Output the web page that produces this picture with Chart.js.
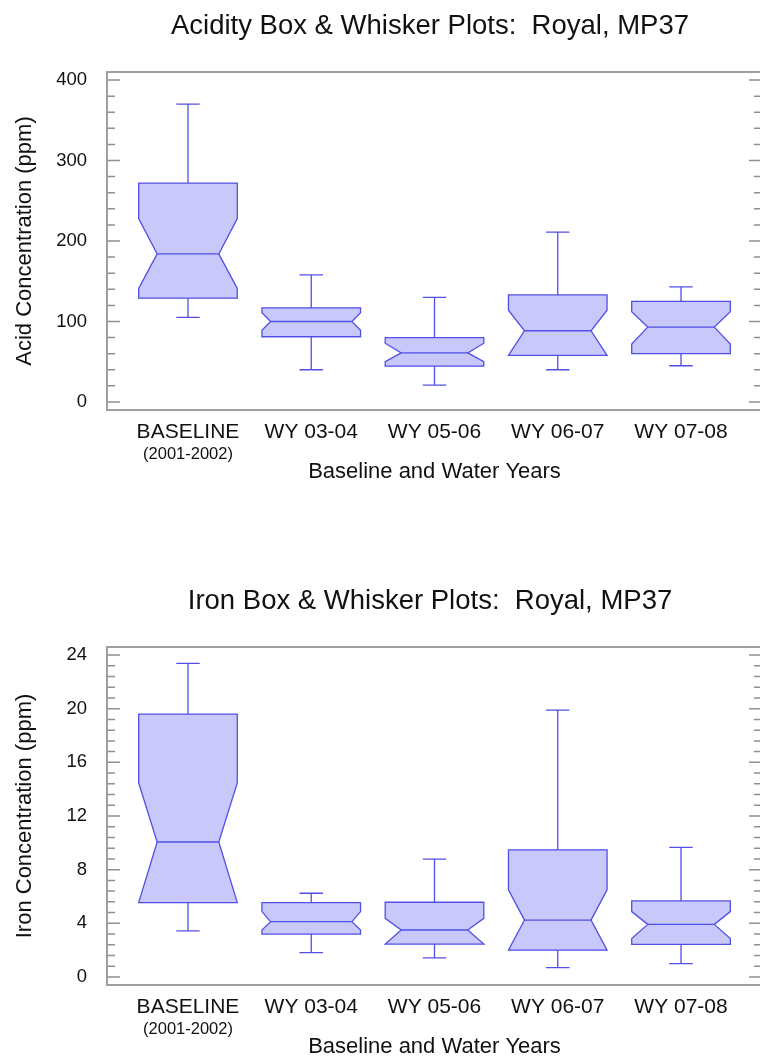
<!DOCTYPE html>
<html>
<head>
<meta charset="utf-8">
<script src="https://cdn.jsdelivr.net/npm/chart.js@4.4.1/dist/chart.umd.min.js"></script>
<style>
  html, body { margin: 0; padding: 0; background: #fff; }
  body { width: 760px; height: 1060px; overflow: hidden; position: relative; }
  .panel { position: absolute; left: 0; }
  canvas { display: block; }
</style>
</head>
<body>
<div class="panel" style="top:0"><canvas id="acidChart" width="860" height="485"></canvas></div>
<div class="panel" style="top:575px"><canvas id="ironChart" width="860" height="485"></canvas></div>
<script>
// categories shared by both plots
const categories = ['BASELINE', 'WY 03-04', 'WY 05-06', 'WY 06-07', 'WY 07-08'];
const subLabels = ['(2001-2002)', '', '', '', ''];

// acidity (ppm)
const acidWhiskerLow  = [105, 40, 21, 40, 45];
const acidQ1          = [129, 81, 44.5, 58, 60];
const acidNotchLow    = [141, 89, 50, 58, 72];
const acidMedian      = [184, 100, 61, 88.5, 93];
const acidNotchHigh   = [228, 111, 73, 114, 112];
const acidQ3          = [272, 117, 80, 133, 125];
const acidWhiskerHigh = [370, 158, 130, 211, 143];
const acidTicks = [0, 100, 200, 300, 400];

// iron (ppm)
const ironWhiskerLow  = [3.44, 1.82, 1.42, 0.7, 1.0];
const ironQ1          = [5.54, 3.2, 2.45, 2.0, 2.43];
const ironNotchLow    = [5.54, 3.5, 2.45, 2.0, 2.87];
const ironMedian      = [10.06, 4.12, 3.5, 4.24, 3.92];
const ironNotchHigh   = [14.47, 4.87, 4.37, 6.49, 4.87];
const ironQ3          = [19.59, 5.54, 5.57, 9.48, 5.67];
const ironWhiskerHigh = [23.38, 6.24, 8.79, 19.89, 9.66];
const ironTicks = [0, 4, 8, 12, 16, 20, 24];

// drawing style (x units)
const BOX_WIDTH = 0.8;
const CAP_WIDTH = 0.19;
const NOTCH_DEPTH = [0.15, 0.07, 0.13, 0.13, 0.13];
const FILL = 'rgb(200,200,250)';
const STROKE = 'rgb(80,80,230)';
const FRAME = '#a0a0a0';
const FONT = '"Liberation Sans", Arial, sans-serif';

const boxPlot = {
  id: 'boxPlot',
  beforeDatasetsDraw(chart, args, opts) {
    const ctx = chart.ctx;
    const a = chart.chartArea;
    const y = chart.scales.y;
    ctx.save();
    ctx.strokeStyle = '#909090';
    ctx.lineWidth = 1.5;
    // inside ticks on left and right
    const lo = opts.ticks[0], hi = opts.ticks[opts.ticks.length - 1];
    const n = Math.round((hi - lo) / opts.minorStep);
    for (let k = 0; k <= n; k++) {
      const v = lo + k * opts.minorStep;
      const major = Math.abs(v / opts.majorStep - Math.round(v / opts.majorStep)) < 1e-6;
      const len = major ? 13 : 8;
      const py = y.getPixelForValue(v);
      ctx.beginPath();
      ctx.moveTo(a.left, py); ctx.lineTo(a.left + len, py);
      ctx.moveTo(a.right, py); ctx.lineTo(a.right - len, py);
      ctx.stroke();
    }
    ctx.strokeStyle = FRAME;
    ctx.lineWidth = 2;
    ctx.strokeRect(a.left, a.top, a.right - a.left, a.bottom - a.top);
    ctx.restore();
  },
  afterDatasetsDraw(chart) {
    const ctx = chart.ctx;
    const x = chart.scales.x, y = chart.scales.y;
    const boxes = chart.data.datasets[0].data;
    ctx.save();
    ctx.lineWidth = 1.3;
    ctx.strokeStyle = STROKE;
    boxes.forEach(function(b, i) {
      const cx = x.getPixelForValue(b.x);
      const l = x.getPixelForValue(b.x - BOX_WIDTH / 2);
      const r = x.getPixelForValue(b.x + BOX_WIDTH / 2);
      const d = x.getPixelForValue(b.x + NOTCH_DEPTH[i]) - cx;
      const cl = x.getPixelForValue(b.x - CAP_WIDTH / 2);
      const cr = x.getPixelForValue(b.x + CAP_WIDTH / 2);
      const py = v => y.getPixelForValue(v);

      // whiskers
      ctx.beginPath();
      ctx.moveTo(cx, py(b.q3)); ctx.lineTo(cx, py(b.whiskerHigh));
      ctx.moveTo(cl, py(b.whiskerHigh)); ctx.lineTo(cr, py(b.whiskerHigh));
      ctx.moveTo(cx, py(b.q1)); ctx.lineTo(cx, py(b.whiskerLow));
      ctx.moveTo(cl, py(b.whiskerLow)); ctx.lineTo(cr, py(b.whiskerLow));
      ctx.stroke();

      // notched box
      ctx.beginPath();
      ctx.moveTo(l, py(b.q3));
      ctx.lineTo(r, py(b.q3));
      ctx.lineTo(r, py(b.notchHigh));
      ctx.lineTo(r - d, py(b.median));
      ctx.lineTo(r, py(b.notchLow));
      ctx.lineTo(r, py(b.q1));
      ctx.lineTo(l, py(b.q1));
      ctx.lineTo(l, py(b.notchLow));
      ctx.lineTo(l + d, py(b.median));
      ctx.lineTo(l, py(b.notchHigh));
      ctx.closePath();
      ctx.fillStyle = FILL;
      ctx.fill();
      ctx.stroke();

      // median
      ctx.beginPath();
      ctx.moveTo(l + d, py(b.median)); ctx.lineTo(r - d, py(b.median));
      ctx.stroke();
    });
    ctx.restore();
  },
  afterDraw(chart) {
    const ctx = chart.ctx;
    const x = chart.scales.x;
    ctx.save();
    ctx.fillStyle = '#111';
    ctx.font = '16.5px ' + FONT;
    ctx.textAlign = 'center';
    ctx.textBaseline = 'middle';
    subLabels.forEach(function(s, i) {
      if (s) ctx.fillText(s, x.getPixelForValue(i), chart.chartArea.bottom + 44);
    });
    ctx.restore();
  }
};

function makeChart(id, title, yTitle, ticks, minorStep, lowW, q1, nLow, med, nHigh, q3, highW) {
  const span = ticks[ticks.length - 1] - ticks[0];
  const yMin = ticks[0] - span * 0.025;
  const yMax = ticks[ticks.length - 1] + span * 0.025;
  const data = categories.map(function(c, i) {
    return { x: i, y: med[i], whiskerLow: lowW[i], q1: q1[i], notchLow: nLow[i],
             median: med[i], notchHigh: nHigh[i], q3: q3[i], whiskerHigh: highW[i] };
  });

  return new Chart(document.getElementById(id), {
    type: 'scatter',
    data: { datasets: [{ data: data, pointRadius: 0, showLine: false }] },
    plugins: [boxPlot],
    options: {
      responsive: false,
      animation: false,
      layout: { padding: 0 },
      plugins: {
        legend: { display: false },
        tooltip: { enabled: false },
        title: {
          display: true,
          text: title,
          color: '#111',
          font: { family: FONT, size: 27.5, weight: 'normal' },
          padding: { top: 9.5, bottom: 29.5 }
        },
        boxPlot: { ticks: ticks, majorStep: ticks[1] - ticks[0], minorStep: minorStep }
      },
      scales: {
        x: {
          type: 'linear',
          min: -0.657,
          max: 4.657,
          grid: { display: false },
          border: { display: false },
          afterBuildTicks: axis => { axis.ticks = categories.map((c, i) => ({ value: i })); },
          afterFit: axis => { axis.height = 75; },
          ticks: {
            autoSkip: false,
            maxRotation: 0,
            padding: 2,
            color: '#111',
            font: { family: FONT, size: 21 },
            callback: v => categories[v]
          },
          title: {
            display: true,
            text: 'Baseline and Water Years',
            color: '#111',
            font: { family: FONT, size: 22 },
            padding: { top: 0, bottom: 0 }
          }
        },
        y: {
          position: 'left',
          min: yMin,
          max: yMax,
          grid: { display: false, drawTicks: false },
          border: { display: false },
          afterBuildTicks: axis => { axis.ticks = ticks.map(v => ({ value: v })); },
          afterFit: axis => { axis.width = 107; },
          ticks: {
            padding: 20,
            color: '#111',
            font: { family: FONT, size: 18.5 }
          },
          title: {
            display: true,
            text: yTitle,
            color: '#111',
            font: { family: FONT, size: 22 },
            padding: { top: 12, bottom: 0 }
          }
        },
        y2: {
          position: 'right',
          min: yMin,
          max: yMax,
          grid: { display: false, drawTicks: false },
          border: { display: false },
          ticks: { display: false },
          afterFit: axis => { axis.width = 98; }
        }
      }
    }
  });
}

makeChart('acidChart', 'Acidity Box & Whisker Plots:  Royal, MP37', 'Acid Concentration (ppm)',
  acidTicks, 20, acidWhiskerLow, acidQ1, acidNotchLow, acidMedian, acidNotchHigh, acidQ3, acidWhiskerHigh);
makeChart('ironChart', 'Iron Box & Whisker Plots:  Royal, MP37', 'Iron Concentration (ppm)',
  ironTicks, 0.8, ironWhiskerLow, ironQ1, ironNotchLow, ironMedian, ironNotchHigh, ironQ3, ironWhiskerHigh);
</script>
</body>
</html>
